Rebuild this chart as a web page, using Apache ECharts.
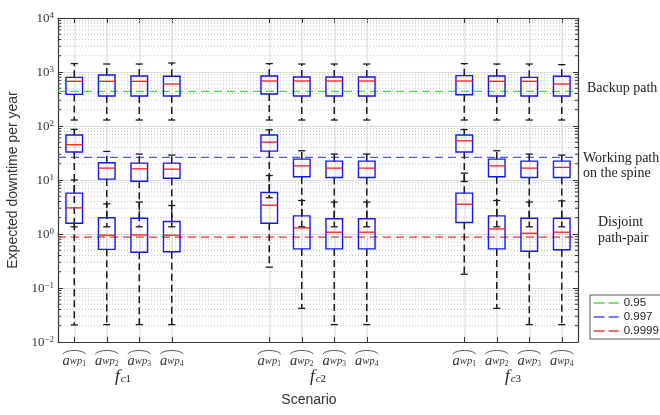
<!DOCTYPE html>
<html><head><meta charset="utf-8">
<script src="https://cdn.jsdelivr.net/npm/echarts@6/dist/echarts.min.js"></script>
<style>html,body{margin:0;padding:0;background:#fff}#c{width:660px;height:415px}</style>
</head><body><div id="c"></div>
<script>
// ---- data ----
const groups = ['c1', 'c2', 'c3'];
const paths = ['wp1', 'wp2', 'wp3', 'wp4'];
const boxSlots = [1, 3, 5, 7, 13, 15, 17, 19, 25, 27, 29, 31];
const groupSlots = [4, 16, 28];
const nSlots = 33;
// each row: [min, Q1, median, Q3, max]
const backupPath = [
  [129, 385, 672, 796, 1430], [129, 359, 672, 880, 1406], [129, 359, 672, 843, 1406], [129, 359, 600, 832, 1468],
  [129, 391, 681, 843, 1430], [129, 359, 681, 807, 1406], [129, 359, 681, 807, 1406], [129, 359, 681, 807, 1406],
  [129, 380, 681, 855, 1430], [129, 359, 672, 843, 1406], [129, 359, 672, 796, 1406], [129, 359, 600, 832, 1368]
];
const workingPath = [
  [1.36, 32.9, 45, 68, 86.5], [1.36, 10.4, 16.6, 20.8, 33.8], [1.36, 9.5, 16.1, 20.5, 30.2], [1.36, 10.8, 15.9, 20.5, 28.9],
  [4.7, 34.3, 50.3, 68, 85], [1.36, 11.5, 18.3, 24.4, 34.8], [1.36, 11.1, 16.6, 22.4, 30.2], [1.36, 11.1, 16.6, 22.4, 30.2],
  [9.4, 32.9, 53.3, 68, 86], [1.36, 11.5, 18.3, 24.4, 34.8], [1.36, 11.1, 16.6, 22.4, 30.2], [1.36, 11.1, 17.1, 22.4, 28.9]
];
const disjointPair = [
  [0.0207, 1.58, 3.05, 5.71, 10], [0.021, 0.52, 0.95, 2.0, 3.62], [0.021, 0.46, 0.96, 1.96, 3.9], [0.021, 0.47, 0.95, 1.70, 3.37],
  [0.243, 1.58, 3.42, 5.88, 12.1], [0.042, 0.53, 1.30, 2.17, 4.17], [0.021, 0.53, 1.08, 1.91, 3.9], [0.021, 0.53, 1.08, 1.91, 3.9],
  [0.18, 1.63, 3.57, 5.71, 13.4], [0.042, 0.53, 1.24, 2.17, 4.17], [0.021, 0.48, 1.03, 1.96, 3.9], [0.021, 0.51, 1.08, 1.96, 4.1]
];
const refNames = ['0.95', '0.997', '0.9999'];
const refValues = [438, 26.2, 0.873];

// ---- helpers ----
const slotCats = Array.from({length: nSlots}, (_, i) => 's' + i);
const slotTick = {}; boxSlots.forEach((s, k) => slotTick[s] = paths[k % 4]);
const slotGroup = {}; groupSlots.forEach((s, k) => slotGroup[s] = groups[k]);
const minorVals = [];
for (let e = -2; e < 4; e++) for (let m = 2; m <= 9; m++) minorVals.push(m * Math.pow(10, e));

function boxRender(params, api) {
  const x = api.value(0);
  const v = [api.value(1), api.value(2), api.value(3), api.value(4), api.value(5)];
  const p = v.map(val => api.coord([x, val]));
  const step = api.coord([x + 1, v[2]])[0] - p[0][0];
  const cx = p[0][0];
  const bw = step * 0.51, cw = step * 0.22;
  const wStyle = {stroke: '#1a1a1a', lineWidth: 1.5, lineDash: [7, 4]};
  const cStyle = {stroke: '#1a1a1a', lineWidth: 1.3};
  return {
    type: 'group',
    children: [
      {type: 'line', shape: {x1: cx, y1: p[3][1], x2: cx, y2: p[4][1]}, style: wStyle},
      {type: 'line', shape: {x1: cx, y1: p[1][1], x2: cx, y2: p[0][1]}, style: wStyle},
      {type: 'line', shape: {x1: cx - cw, y1: p[4][1], x2: cx + cw, y2: p[4][1]}, style: cStyle},
      {type: 'line', shape: {x1: cx - cw, y1: p[0][1], x2: cx + cw, y2: p[0][1]}, style: cStyle},
      {type: 'rect', shape: {x: cx - bw, y: p[3][1], width: 2 * bw, height: p[1][1] - p[3][1]},
        style: {fill: 'none', stroke: '#1414ff', lineWidth: 1.4}},
      {type: 'line', shape: {x1: cx - bw, y1: p[2][1], x2: cx + bw, y2: p[2][1]},
        style: {stroke: '#ff1a1a', lineWidth: 1.3}}
    ]
  };
}
function gridRender(params, api) {
  const cs = params.coordSys;
  const y = api.coord([0, api.value(1)])[1];
  return {
    type: 'group',
    children: [
      {type: 'line', shape: {x1: cs.x, y1: y, x2: cs.x + cs.width, y2: y}, style: {stroke: '#c4c4c4', lineWidth: 1, lineDash: [1, 2]}},
      {type: 'line', shape: {x1: cs.x, y1: y, x2: cs.x + 3, y2: y}, style: {stroke: '#333', lineWidth: 1}},
      {type: 'line', shape: {x1: cs.x + cs.width - 3, y1: y, x2: cs.x + cs.width, y2: y}, style: {stroke: '#333', lineWidth: 1}}
    ]
  };
}
// wide hat drawn over each a_wp tick label
function hatRender(params, api) {
  const cs = params.coordSys;
  const cx = api.coord([api.value(0), 1])[0];
  const yb = cs.y + cs.height;
  return {
    type: 'bezierCurve',
    shape: {x1: cx - 11.5, y1: yb + 12, cpx1: cx - 8, cpy1: yb + 7.3, cpx2: cx + 8, cpy2: yb + 7.3, x2: cx + 11.5, y2: yb + 12},
    style: {stroke: '#444', lineWidth: 0.9, fill: 'none'}
  };
}
function boxSeries(name, arr) {
  return {
    type: 'custom', name: name, renderItem: boxRender, z: 5, silent: true,
    encode: {x: 0, y: [1, 2, 3, 4, 5]},
    data: boxSlots.map((s, k) => [s].concat(arr[k]))
  };
}
const refColors = ['#3ee03e', '#4a55ff', '#ee3a3a'];
const serif = 'Liberation Serif';
const sans = 'Liberation Sans';

const chart = echarts.init(document.getElementById('c'), null, {renderer: 'canvas'});
chart.setOption({
  animation: false,
  backgroundColor: '#fff',
  grid: {left: 58, right: 82, top: 18, bottom: 73, containLabel: false, outerBoundsMode: 'none'},
  legend: {
    data: refNames, orient: 'vertical', left: 590, top: 295,
    itemWidth: 25, itemHeight: 11, itemGap: 2,
    backgroundColor: '#fff', borderColor: '#555', borderWidth: 1, borderRadius: 0,
    padding: [2, 12, 2, 3],
    itemStyle: {opacity: 0},
    lineStyle: {type: [11, 4], width: 1.3},
    textStyle: {fontFamily: sans, fontSize: 11.5, color: '#222'}
  },
  xAxis: [
    {
      type: 'category', data: slotCats, boundaryGap: false, position: 'bottom',
      axisLine: {lineStyle: {color: '#333', width: 1.2}},
      axisTick: {inside: true, length: 5, interval: (i) => slotTick[i] !== undefined, lineStyle: {color: '#333'}},
      splitLine: {show: true, interval: (i) => slotTick[i] !== undefined, lineStyle: {color: '#e4e4e4', width: 1.5}},
      axisLabel: {
        interval: (i) => slotTick[i] !== undefined, margin: 12,
        formatter: (v, i) => {
          const t = slotTick[i]; if (!t) return '';
          return '{a|a}{w|wp}{n|' + t.slice(2) + '}';
        },
        rich: {
          a: {fontFamily: serif, fontStyle: 'italic', fontSize: 14.5, lineHeight: 14, verticalAlign: 'top', padding: [0, 0, 5, 0], color: '#333'},
          w: {fontFamily: serif, fontStyle: 'italic', fontSize: 10.5, lineHeight: 10, verticalAlign: 'bottom', padding: [0, 0, 1, 0], color: '#333'},
          n: {fontFamily: serif, fontSize: 7.5, lineHeight: 7, verticalAlign: 'bottom', color: '#333'}
        }
      }
    },
    {
      type: 'category', data: slotCats, boundaryGap: false, position: 'top',
      axisLine: {lineStyle: {color: '#333', width: 1.2}},
      axisTick: {inside: true, length: 5, interval: (i) => slotTick[i] !== undefined, lineStyle: {color: '#333'}},
      axisLabel: {show: false}, splitLine: {show: false}
    },
    {
      type: 'category', data: slotCats, boundaryGap: false, position: 'bottom', offset: 18,
      axisLine: {show: false}, axisTick: {show: false}, splitLine: {show: false},
      axisLabel: {
        interval: (i) => slotGroup[i] !== undefined,
        formatter: (v, i) => { const g = slotGroup[i]; if (!g) return ''; return '{f|f}{c|c}{d|' + g.slice(1) + '}'; },
        rich: {
          f: {fontFamily: serif, fontStyle: 'italic', fontSize: 17, lineHeight: 17, verticalAlign: 'top', padding: [0, 1, 3, 0], color: '#222'},
          c: {fontFamily: serif, fontStyle: 'italic', fontSize: 11, lineHeight: 11, verticalAlign: 'bottom', color: '#222'},
          d: {fontFamily: serif, fontSize: 11, lineHeight: 11, verticalAlign: 'bottom', color: '#222'}
        }
      },
      name: 'Scenario', nameLocation: 'middle', nameGap: 30,
      nameTextStyle: {fontFamily: sans, fontSize: 14, color: '#333', padding: [0, 18, 0, 0]}
    }
  ],
  yAxis: [
    {
      type: 'log', logBase: 10, min: 0.01, max: 10000, position: 'left',
      axisLine: {show: true, lineStyle: {color: '#333', width: 1.2}},
      axisTick: {show: true, inside: true, length: 5, lineStyle: {color: '#333'}},
      splitLine: {show: true, lineStyle: {color: '#dcdcdc', width: 1}},
      axisLabel: {
        margin: 4,
        formatter: (v) => {
          const e = Math.round(Math.log10(v));
          return '{b|10}{s|' + (e < 0 ? '\u2212' + (-e) : e) + '}';
        },
        rich: {
          b: {fontFamily: serif, fontSize: 13, lineHeight: 14, verticalAlign: 'bottom', padding: [4, 0, 0, 0], color: '#333'},
          s: {fontFamily: serif, fontSize: 9, lineHeight: 9, verticalAlign: 'top', color: '#333'}
        }
      },
      name: 'Expected downtime per year', nameLocation: 'middle', nameGap: 34,
      nameTextStyle: {fontFamily: sans, fontSize: 14, color: '#333'}
    },
    {
      type: 'log', logBase: 10, min: 0.01, max: 10000, position: 'right',
      axisLine: {show: true, lineStyle: {color: '#333', width: 1.2}},
      axisTick: {show: true, inside: true, length: 5, lineStyle: {color: '#333'}},
      axisLabel: {show: false}, splitLine: {show: false}
    }
  ],
  graphic: [
    {type: 'text', left: 587, top: 81, style: {text: 'Backup path', fontFamily: serif, fontSize: 14, fill: '#222'}},
    {type: 'text', left: 583, top: 151, style: {text: 'Working path\non the spine', fontFamily: serif, fontSize: 14, lineHeight: 15, fill: '#222'}},
    {type: 'text', left: 598, top: 214, style: {text: 'Disjoint\npath-pair', fontFamily: serif, fontSize: 14, lineHeight: 16, align: 'center', fill: '#222'}}
  ],
  series: [
    {
      type: 'custom', name: 'minorGrid', renderItem: gridRender, z: 1, silent: true,
      encode: {x: 0, y: 1},
      data: minorVals.map(v => [0, v])
    },
    {
      type: 'custom', name: 'hats', renderItem: hatRender, z: 2, silent: true, clip: false,
      encode: {x: 0, y: 1},
      data: boxSlots.map(s => [s, 1])
    }
  ].concat(refNames.map((n, k) => ({
    type: 'line', name: n, symbol: 'none', z: 3, silent: true,
    lineStyle: {color: refColors[k], width: 1.3, type: [8, 5]},
    itemStyle: {color: refColors[k]},
    data: [[0, refValues[k]], [nSlots - 1, refValues[k]]]
  }))).concat([
    boxSeries('Backup path', backupPath),
    boxSeries('Working path', workingPath),
    boxSeries('Disjoint path-pair', disjointPair)
  ])
});
</script>
</body></html>
